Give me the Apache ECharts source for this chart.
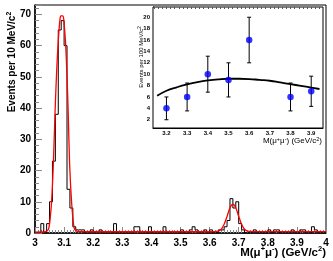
<!DOCTYPE html>
<html><head><meta charset="utf-8">
<script src="https://cdn.jsdelivr.net/npm/echarts@6/dist/echarts.min.js"></script>
<style>html,body{margin:0;padding:0;background:#fff}#c{width:333px;height:261px}</style>
</head><body><div id="c"></div>
<script>
// ---- main histogram: 10 MeV bins from 3.00 to 4.00 GeV ----
const binStart = 3.0;
const binWidth = 0.01;
const counts = [
  0,0,3,0,3,10,23,38,65,68,
  60,14,8,2,1,1,1,0,0,1,
  0,0,1,0,0,0,0,3,0,0,
  0,0,0,0,2,2,0,0,0,2,
  0,0,0,0,2,0,0,0,0,0,
  1,0,0,1,2,1,0,0,1,0,
  1,0,0,1,1,2,4,11,8,10,
  3,1,0,0,0,1,0,0,0,0,
  1,0,1,1,0,0,0,0,1,0,
  0,1,1,0,0,2,1,0,0,0
];
// ---- main fit curve ----
const fitX = [3.00,3.035,3.045,3.048,3.052,3.057,3.063,3.069,3.075,3.081,3.086,3.089,3.096,3.100,3.105,3.110,3.114,3.119,3.126,3.134,3.140,3.150,3.20,3.30,3.40,3.50,3.60,3.63,3.64,3.65,3.66,3.67,3.68,3.69,3.70,3.71,3.72,3.73,3.75,3.85,4.00];
const fitY = [0.3,0.4,1.0,1.8,4.5,10,22,39,53,63,68.5,69.5,69.5,67,61,50,39,22,9.5,1.8,0.8,0.45,0.4,0.4,0.4,0.4,0.4,0.6,1.2,2.8,5.3,8.1,9.2,8.1,5.3,2.8,1.2,0.6,0.45,0.45,0.45];
// ---- inset: 100 MeV bins ----
const insetX = [3.2,3.3,3.4,3.5,3.6,3.8,3.9];
const insetY = [4,6,10,9,16,6,7];
const insetErr = [2,2.45,3.16,3,4,2.45,2.65];
const insetFitX = [3.155,3.2,3.25,3.3,3.35,3.4,3.45,3.5,3.55,3.6,3.65,3.7,3.75,3.8,3.85,3.9,3.94];
const insetFitY = [6.2,7.1,7.7,8.2,8.6,8.9,9.1,9.2,9.2,9.15,9.0,8.85,8.55,8.25,7.95,7.65,7.4];
// ---- tick labels ----
const mainYTicks = [0,10,20,30,40,50,60,70];
const insetXTicks = [3.2,3.3,3.4,3.5,3.6,3.7,3.8,3.9];
const insetYTicks = [2,4,6,8,10,12,14,16,18,20];

const FONT = 'Liberation Sans, Arial, Helvetica, sans-serif';

const histPts = [];
counts.forEach((v, i) => {
  const a = binStart + i * binWidth, b = binStart + (i + 1) * binWidth;
  histPts.push([+a.toFixed(3), v], [+b.toFixed(3), v]);
});
const fitPts = fitX.map((x, i) => [x, fitY[i]]);
const insetPts = insetX.map((x, i) => [x, insetY[i]]);
const errPts = insetX.map((x, i) => [x, insetY[i] - insetErr[i], insetY[i] + insetErr[i]]);
const insetFitPts = insetFitX.map((x, i) => [x, insetFitY[i]]);

// minor tick positions for the inset
const insetXMinor = [];
for (let k = 0; k <= 41; k++) { const v = +(3.14 + k * 0.02).toFixed(2); if (v < 3.957) insetXMinor.push(v); }
const insetYMinor = [];
for (let k = 0; k <= 60; k++) { const v = +(0.8 + k * 0.4).toFixed(1); if (v < 21.8) insetYMinor.push(v); }

const chart = echarts.init(document.getElementById('c'), null, {renderer: 'canvas'});
const tickGray = '#8a8a8a';
const lab = {color: '#000', fontFamily: FONT, fontWeight: 'bold', fontSize: 10};
const sLab = {color: '#000', fontFamily: FONT, fontWeight: 'bold', fontSize: 6};

chart.setOption({
  animation: false,
  backgroundColor: '#fff',
  grid: [
    {left: 35, right: 7, top: 5, bottom: 28, show: true, borderColor: '#000', borderWidth: 1, backgroundColor: 'transparent'},
    {left: 153, right: 10, top: 7, bottom: 133, show: true, borderColor: '#000', borderWidth: 1, backgroundColor: '#fff', z: 5}
  ],
  xAxis: [
    {gridIndex: 0, type: 'value', min: 3, max: 4, interval: 0.1,
     axisLine: {onZero: false, lineStyle: {color: '#000', width: 1.5}},
     axisTick: {inside: true, length: 6, lineStyle: {color: tickGray}},
     minorTick: {show: true, splitNumber: 10, length: 3, lineStyle: {color: tickGray}},
     splitLine: {show: false},
     axisLabel: Object.assign({margin: 5, formatter: v => String(+(+v).toFixed(1))}, lab)},
    {gridIndex: 1, type: 'value', min: 3.135, max: 3.957,
     axisLine: {onZero: false, lineStyle: {color: '#000', width: 1}},
     axisTick: {inside: true, length: 4, customValues: insetXTicks, lineStyle: {color: '#333'}},
     splitLine: {show: false},
     axisLabel: Object.assign({margin: 2, customValues: insetXTicks, formatter: v => (+v).toFixed(1)}, sLab)},
    {gridIndex: 1, type: 'value', min: 3.135, max: 3.957, z: 6,
     axisLine: {show: false},
     axisTick: {inside: true, length: 2, customValues: insetXMinor, lineStyle: {color: '#555'}},
     splitLine: {show: false},
     axisLabel: {show: false}}
  ],
  yAxis: [
    {gridIndex: 0, type: 'value', min: 0, max: 73, interval: 10,
     axisLine: {show: true, onZero: false, lineStyle: {color: '#000', width: 1.5}},
     axisTick: {show: true, inside: true, length: 7, lineStyle: {color: tickGray}},
     minorTick: {show: true, splitNumber: 5, length: 4, lineStyle: {color: tickGray}},
     splitLine: {show: false},
     axisLabel: Object.assign({margin: 4, customValues: mainYTicks}, lab)},
    {gridIndex: 1, type: 'value', min: 0.55, max: 21.8,
     axisLine: {show: true, onZero: false, lineStyle: {color: '#000', width: 1}},
     axisTick: {show: true, inside: true, length: 4, customValues: insetYTicks, lineStyle: {color: '#333'}},
     splitLine: {show: false},
     axisLabel: Object.assign({margin: 3, customValues: insetYTicks}, sLab)},
    {gridIndex: 1, type: 'value', min: 0.55, max: 21.8,
     axisLine: {show: false},
     axisTick: {show: true, inside: true, length: 2, customValues: insetYMinor, lineStyle: {color: '#555'}},
     splitLine: {show: false},
     axisLabel: {show: false}}
  ],
  series: [
    {type: 'line', xAxisIndex: 0, yAxisIndex: 0, data: histPts, showSymbol: false, symbol: 'none',
     lineStyle: {color: '#000', width: 1}, z: 2},
    {type: 'line', xAxisIndex: 0, yAxisIndex: 0, data: fitPts, showSymbol: false, symbol: 'none', smooth: 0.3,
     lineStyle: {color: '#ff0000', width: 1.3}, z: 3},
    {type: 'line', xAxisIndex: 1, yAxisIndex: 1, data: insetFitPts, showSymbol: false, symbol: 'none', smooth: true,
     lineStyle: {color: '#000', width: 1.8}, z: 10},
    {type: 'custom', xAxisIndex: 1, yAxisIndex: 1, data: errPts, z: 11,
     renderItem: (params, api) => {
       const lo = api.coord([api.value(0), api.value(1)]);
       const hi = api.coord([api.value(0), api.value(2)]);
       const cw = 2;
       const st = {stroke: '#000', lineWidth: 1};
       return {type: 'group', children: [
         {type: 'line', shape: {x1: lo[0], y1: lo[1], x2: hi[0], y2: hi[1]}, style: st},
         {type: 'line', shape: {x1: lo[0] - cw, y1: lo[1], x2: lo[0] + cw, y2: lo[1]}, style: st},
         {type: 'line', shape: {x1: hi[0] - cw, y1: hi[1], x2: hi[0] + cw, y2: hi[1]}, style: st}
       ]};
     }},
    {type: 'scatter', xAxisIndex: 1, yAxisIndex: 1, data: insetPts, symbol: 'circle', symbolSize: 6.5,
     itemStyle: {color: '#0000ff'}, z: 12}
  ],
  graphic: [
    {type: 'text', x: 12.5, y: 62, rotation: Math.PI / 2, z: 20,
     style: {text: 'Events per 10 MeV/c{sup|2}', fill: '#000', font: 'bold 10px ' + FONT,
             align: 'center', verticalAlign: 'middle', textAlign: 'center', textVerticalAlign: 'middle', lineHeight: 14,
             rich: {sup: {fontSize: 7, fontWeight: 'bold', fontFamily: FONT, verticalAlign: 'top', lineHeight: 14}}}},
    {type: 'text', x: 326, y: 253, z: 20,
     style: {text: 'M(μ{sup|+}μ{sup|-}) (GeV/c{sup|2})', fill: '#000', font: 'bold 11.5px ' + FONT,
             align: 'right', verticalAlign: 'middle', textAlign: 'right', textVerticalAlign: 'middle', lineHeight: 16,
             rich: {sup: {fontSize: 7.5, fontWeight: 'bold', fontFamily: FONT, verticalAlign: 'top', lineHeight: 16}}}},
    {type: 'text', x: 141, y: 57, rotation: Math.PI / 2, z: 20,
     style: {text: 'Events per 100 MeV/c{sup|2}', fill: '#000', font: '6px ' + FONT,
             align: 'center', verticalAlign: 'middle', textAlign: 'center', textVerticalAlign: 'middle', lineHeight: 8,
             rich: {sup: {fontSize: 4.5, fontFamily: FONT, verticalAlign: 'top', lineHeight: 8}}}},
    {type: 'text', x: 322, y: 141, z: 20,
     style: {text: 'M(μ{sup|+}μ{sup|-}) (GeV/c{sup|2})', fill: '#000', font: '8px ' + FONT,
             align: 'right', verticalAlign: 'middle', textAlign: 'right', textVerticalAlign: 'middle', lineHeight: 10,
             rich: {sup: {fontSize: 5.5, fontFamily: FONT, verticalAlign: 'top', lineHeight: 10}}}}
  ]
});
</script></body></html>
